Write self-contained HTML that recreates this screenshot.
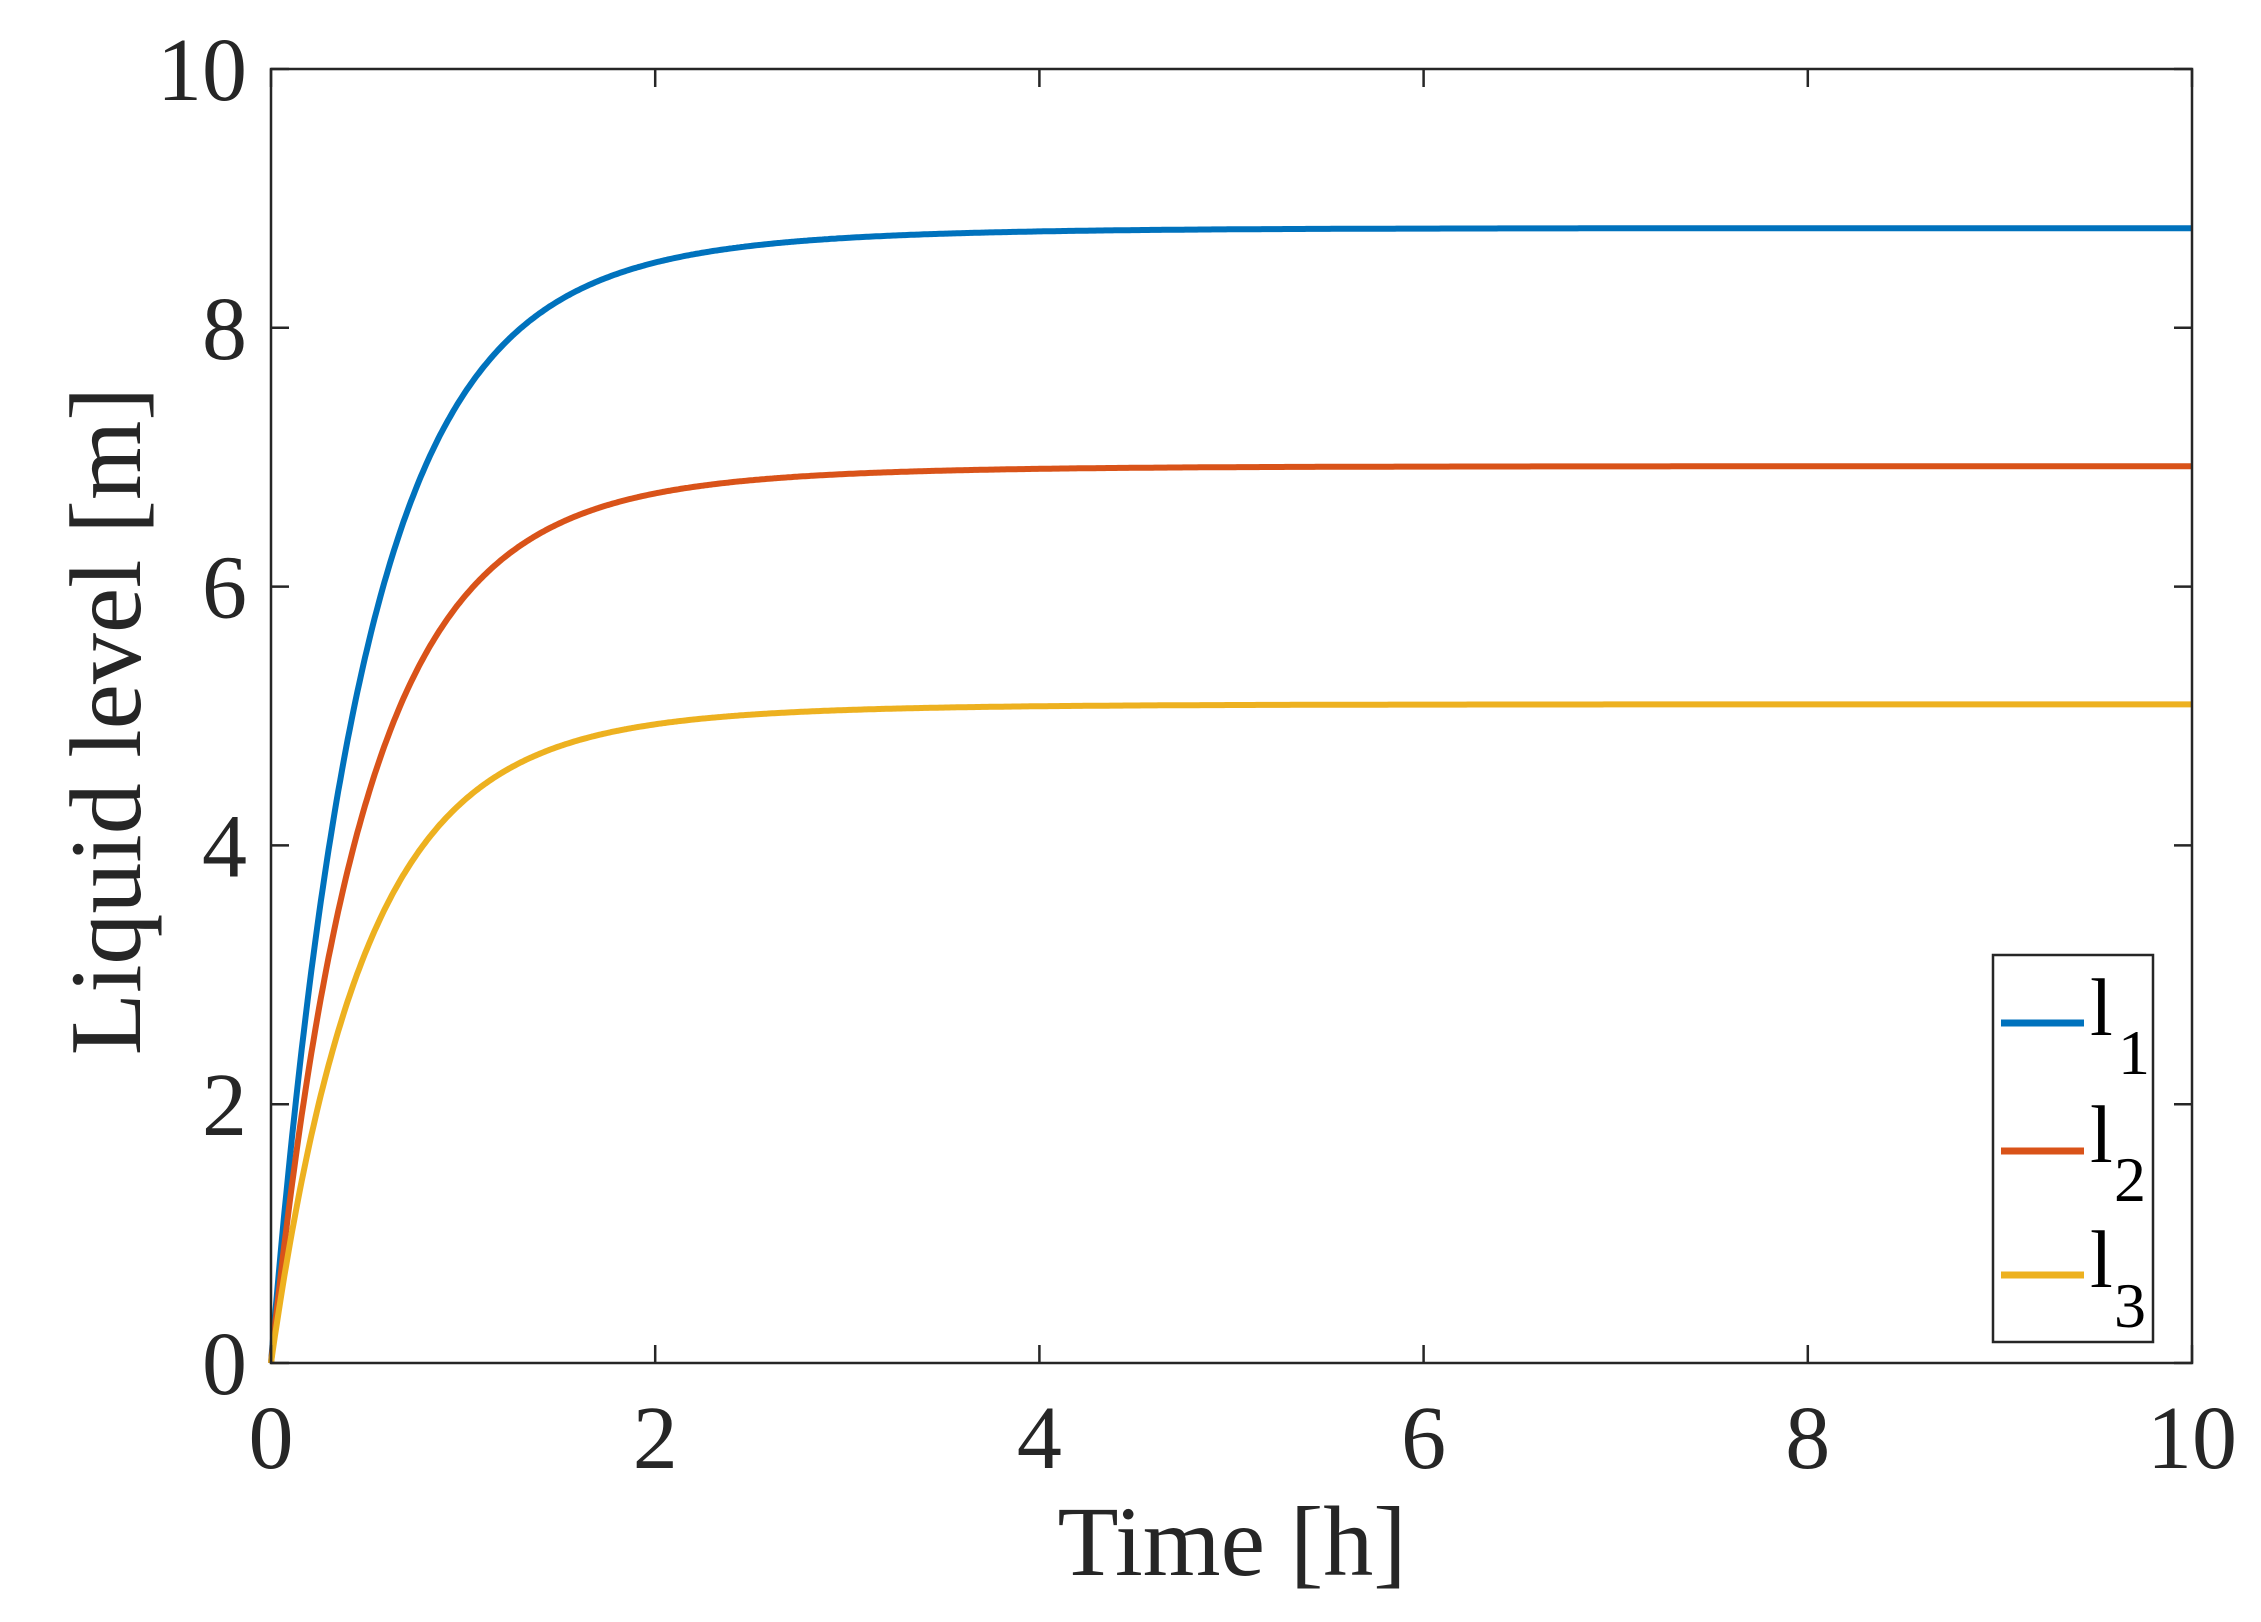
<!DOCTYPE html>
<html><head><meta charset="utf-8"><style>
html,body{margin:0;padding:0;background:#fff;}
svg{display:block;}
text{font-family:"Liberation Serif",serif;fill:#262626;}
</style></head><body>
<svg id="s" width="2261" height="1622" viewBox="0 0 2261 1622" xmlns="http://www.w3.org/2000/svg">
<rect width="2261" height="1622" fill="#fff"/>
<g id="curves" fill="none" stroke-width="6" stroke-linejoin="round"></g>
<rect x="271" y="69" width="1921" height="1294" fill="none" stroke="#262626" stroke-width="2.5"/>
<g id="ticks" stroke="#262626" stroke-width="2.5"></g>
<g id="labels" font-size="90"></g>
<text x="1232" y="1575" font-size="100" text-anchor="middle">Time [h]</text>
<text transform="translate(140,721) rotate(-90)" font-size="102" text-anchor="middle">Liquid level [m]</text>
<rect x="1993" y="955" width="160" height="387" fill="#fff" stroke="#262626" stroke-width="2.5"/>
<line x1="2001" y1="1023" x2="2084" y2="1023" stroke="#0072BD" stroke-width="7"/>
<line x1="2001" y1="1151" x2="2084" y2="1151" stroke="#D95319" stroke-width="7"/>
<line x1="2001" y1="1275" x2="2084" y2="1275" stroke="#EDB120" stroke-width="7"/>
<g font-size="82" style="fill:#000">
<text x="2090" y="1035" style="fill:#000">l</text><text x="2118" y="1074" font-size="64" style="fill:#000">1</text>
<text x="2090" y="1162" style="fill:#000">l</text><text x="2114" y="1201" font-size="64" style="fill:#000">2</text>
<text x="2090" y="1287" style="fill:#000">l</text><text x="2114" y="1327" font-size="64" style="fill:#000">3</text>
</g>
</svg>
<script>
var L=271,T=69,R=2192,B=1363,W=R-L,H=B-T,ns="http://www.w3.org/2000/svg";
function X(t){return L+t/10*W;}function Y(v){return B-v/10*H;}
var c=document.getElementById('curves');
[[8.77,'#0072BD'],[6.93,'#D95319'],[5.09,'#EDB120']].forEach(function(s){
 var d='';for(var i=0;i<=1000;i++){var t=i/100;var v=s[0]*(1-0.85*Math.exp(-t/0.45)-0.15*Math.exp(-t/1.0));d+=(i?'L':'M')+X(t).toFixed(1)+','+Y(v).toFixed(1);}
 var p=document.createElementNS(ns,'path');p.setAttribute('d',d);p.setAttribute('stroke',s[1]);c.appendChild(p);});
var tk=document.getElementById('ticks'),lb=document.getElementById('labels');
function ln(a,b,c2,d){var l=document.createElementNS(ns,'line');l.setAttribute('x1',a);l.setAttribute('y1',b);l.setAttribute('x2',c2);l.setAttribute('y2',d);tk.appendChild(l);}
function tx(x,y,s,a){var t=document.createElementNS(ns,'text');t.setAttribute('x',x);t.setAttribute('y',y);t.setAttribute('text-anchor',a);t.textContent=s;lb.appendChild(t);}
for(var k=0;k<=10;k+=2){var x=X(k),y=Y(k);
 ln(x,B,x,B-18);ln(x,T,x,T+18);ln(L,y,L+18,y);ln(R,y,R-18,y);
 tx(x,1468,k,'middle');tx(247,y+31,k,'end');}
</script>
</body></html>
